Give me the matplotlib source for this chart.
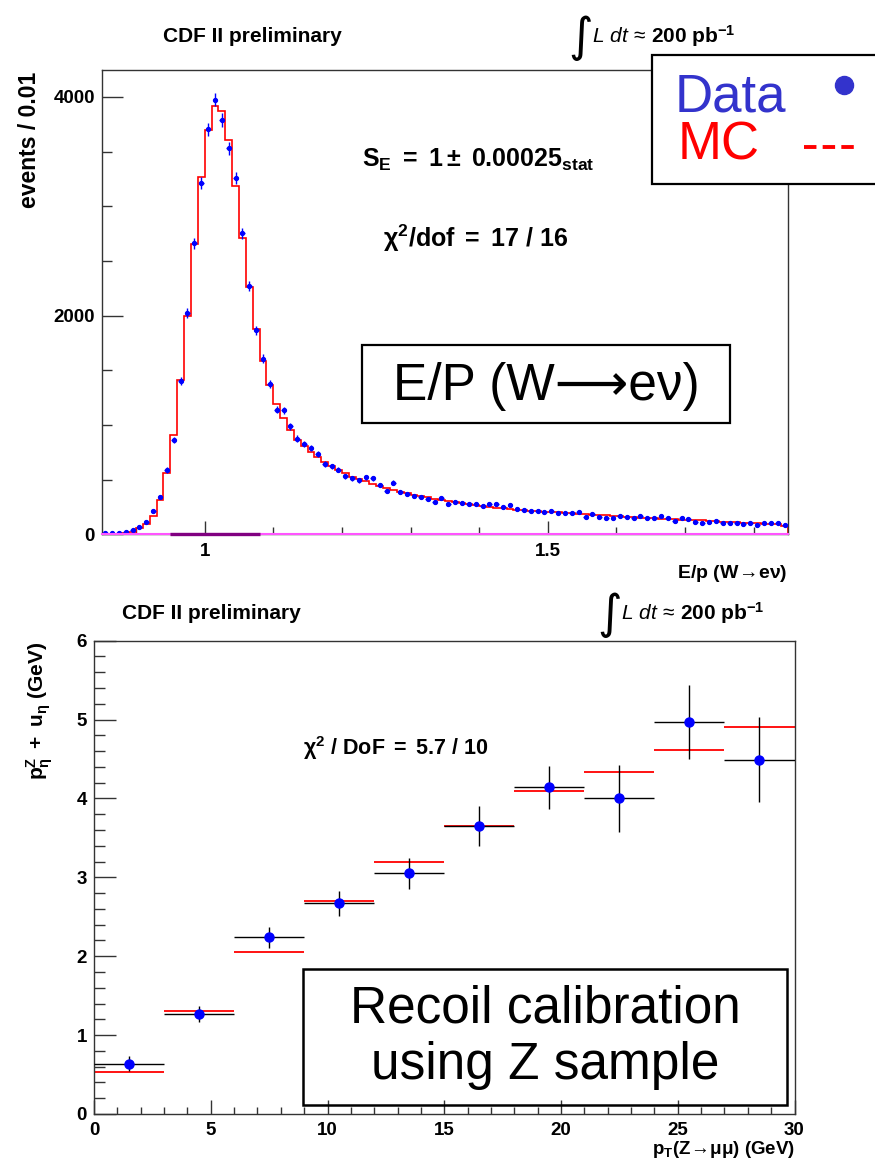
import numpy as np
import matplotlib
matplotlib.use('Agg')
import matplotlib.pyplot as plt
from matplotlib.patches import Rectangle
from matplotlib.lines import Line2D
from matplotlib.ticker import MultipleLocator, StrMethodFormatter

plt.rcParams['font.family'] = ['Liberation Sans', 'DejaVu Sans']
plt.rcParams['mathtext.fontset'] = 'custom'
plt.rcParams['mathtext.rm'] = 'Liberation Sans'
plt.rcParams['mathtext.it'] = 'Liberation Sans:italic'
plt.rcParams['mathtext.bf'] = 'Liberation Sans:bold'

W, H = 875, 1165

# ---- E/p histogram (W -> e nu), 100 bins of 0.01 starting at 0.85 ----
ep_start = 0.85
ep_bin = 0.01
ep_data = [11, 11, 17, 23, 41, 72, 118, 219, 341, 589,
           862, 1400, 2026, 2661, 3215, 3704, 3975, 3786, 3531, 3260,
           2753, 2269, 1865, 1607, 1379, 1142, 1135, 990, 877, 825,
           792, 734, 643, 622, 594, 534, 512, 497, 521, 512,
           451, 400, 473, 391, 369, 354, 339, 324, 299, 330,
           278, 299, 290, 275, 275, 263, 278, 278, 248, 269,
           230, 223, 217, 217, 208, 217, 199, 199, 199, 208,
           162, 187, 162, 148, 148, 169, 162, 148, 169, 148,
           148, 169, 148, 126, 153, 139, 117, 108, 117, 126,
           102, 102, 102, 93, 108, 87, 108, 108, 108, 87]
ep_mc = [3, 4, 6, 10, 26, 55, 94, 170, 313, 565,
         909, 1409, 1993, 2657, 3263, 3698, 3917, 3871, 3604, 3181,
         2710, 2266, 1880, 1585, 1363, 1190, 1069, 959, 862, 807,
         755, 710, 658, 625, 594, 560, 530, 505, 485, 465,
         445, 425, 408, 392, 378, 365, 352, 340, 328, 318,
         308, 298, 290, 282, 274, 262, 254, 246, 238, 232,
         226, 222, 218, 214, 210, 206, 202, 198, 194, 190,
         186, 182, 178, 174, 170, 166, 162, 158, 155, 152,
         149, 146, 143, 140, 137, 134, 131, 128, 124, 121,
         117, 114, 111, 108, 105, 102, 99, 96, 93, 80]
fit_range = [0.95, 1.08]

# ---- recoil calibration with Z -> mu mu ----
pt_lo = [0, 3, 6, 9, 12, 15, 18, 21, 24, 27]
pt_bin = 3
recoil_data = [0.64, 1.27, 2.24, 2.67, 3.05, 3.65, 4.14, 4.00, 4.97, 4.49]
recoil_err = [0.10, 0.10, 0.13, 0.155, 0.20, 0.25, 0.27, 0.42, 0.47, 0.54]
recoil_mc = [0.53, 1.31, 2.06, 2.70, 3.20, 3.65, 4.10, 4.34, 4.62, 4.91]


def fx(x):
    return x / W


def fy(y):
    return 1 - y / H


def style_axes(ax, major_len_y, major_len_x):
    for s in ax.spines.values():
        s.set_color('#333333')
        s.set_linewidth(1.0)
    ax.tick_params(which='both', direction='in', colors='#333333',
                   top=False, right=False, labelsize=13.5, width=1.0)
    ax.tick_params(axis='y', which='major', length=major_len_y, pad=5)
    ax.tick_params(axis='y', which='minor', length=major_len_y / 2)
    ax.tick_params(axis='x', which='major', length=major_len_x, pad=6)
    ax.tick_params(axis='x', which='minor', length=major_len_x / 2)
    for lab in ax.get_xticklabels() + ax.get_yticklabels():
        lab.set_fontweight('bold')
        lab.set_color('black')


fig = plt.figure(figsize=(W / 100, H / 100), dpi=100)

# ================= top panel =================
ax1 = fig.add_axes([fx(101.7), fy(534.5), (788 - 101.7) / W, (534.5 - 70) / H])
edges = ep_start + ep_bin * np.arange(len(ep_data) + 1)
centers = edges[:-1] + ep_bin / 2
ax1.stairs(ep_mc, edges, color='red', lw=1.2, zorder=2)
ax1.errorbar(centers, ep_data, xerr=0.0035, yerr=np.sqrt(ep_data),
             fmt='o', ms=2.8, color='blue', ecolor='blue', elinewidth=1.0,
             capsize=0, zorder=3)
ax1.axhline(0, color='#ff55ff', lw=1.5, zorder=4, clip_on=False)
ax1.plot(fit_range, [0, 0], color='#800080', lw=2.4, zorder=5,
         solid_capstyle='butt', clip_on=False)
ax1.set_xlim(edges[0], edges[-1])
ax1.set_ylim(0, 4245)
ax1.xaxis.set_major_locator(MultipleLocator(0.5))
ax1.xaxis.set_minor_locator(MultipleLocator(0.1))
ax1.xaxis.set_major_formatter(StrMethodFormatter('{x:g}'))
ax1.yaxis.set_major_locator(MultipleLocator(2000))
ax1.yaxis.set_minor_locator(MultipleLocator(500))
style_axes(ax1, 15, 9.5)

# ================= bottom panel =================
ax2 = fig.add_axes([fx(94), fy(1114), (794.5 - 94) / W, (1114 - 640.7) / H])
pt_lo_arr = np.array(pt_lo, dtype=float)
pt_c = pt_lo_arr + pt_bin / 2
ax2.hlines(recoil_mc, pt_lo_arr, pt_lo_arr + pt_bin, color='red', lw=1.3, zorder=2)
ax2.errorbar(pt_c, recoil_data, xerr=pt_bin / 2, yerr=recoil_err, fmt='o',
             ms=6.5, color='blue', ecolor='black', elinewidth=1.0, capsize=0,
             zorder=3)
ax2.set_xlim(0, 30)
ax2.set_ylim(0, 6)
ax2.xaxis.set_major_locator(MultipleLocator(5))
ax2.xaxis.set_minor_locator(MultipleLocator(1))
ax2.yaxis.set_major_locator(MultipleLocator(1))
ax2.yaxis.set_minor_locator(MultipleLocator(0.2))
style_axes(ax2, 15.5, 10)

# ================= texts =================
bold = dict(fontweight='bold', color='black')
fig.text(fx(163), fy(37), 'CDF II preliminary', fontsize=15, va='center', **bold)
fig.text(fx(122), fy(614), 'CDF II preliminary', fontsize=15, va='center', **bold)

for xi, yb in ((568, 43), (597, 620)):
    fig.text(fx(xi), fy(yb + 8), '\u222b', family='DejaVu Sans', fontsize=34,
             va='baseline', ha='left')
    fig.text(fx(xi + 24), fy(yb), r'$\mathit{L\ dt}\,\approx\,\mathbf{200\ pb^{-1}}$',
             fontsize=15, va='baseline', ha='left')

fig.text(fx(30), fy(72), 'events / 0.01', rotation=90, fontsize=16.5,
         ha='center', va='top', **bold)
fig.text(fx(787), fy(573), r'$\mathbf{E/p\ (W\!\rightarrow\! e\nu)}$', fontsize=14,
         ha='right', va='center')
fig.text(fx(40), fy(642), r'$\mathbf{p^{Z}_{\eta}\ +\ u_{\eta}\ (GeV)}$', rotation=90,
         fontsize=15, ha='center', va='top')
fig.text(fx(795), fy(1150), r'$\mathbf{p_{T}(Z\!\rightarrow\!\mu\mu)\ (GeV)}$',
         fontsize=13.5, ha='right', va='center')

fig.text(fx(362), fy(160), r'$\mathbf{S_{E}\ =\ 1\pm\ 0.00025_{stat}}$',
         fontsize=18, ha='left', va='center')
fig.text(fx(383), fy(238), r'$\mathbf{\chi^{2}/dof\ =\ 17\ /\ 16}$',
         fontsize=18, ha='left', va='center')
fig.text(fx(303), fy(748), r'$\mathbf{\chi^{2}\ /\ DoF\ =\ 5.7\ /\ 10}$',
         fontsize=15.5, ha='left', va='center')

# boxed annotations
fig.add_artist(Rectangle((fx(362), fy(423)), (730 - 362) / W, (423 - 345) / H,
                         transform=fig.transFigure, fill=False, ec='black', lw=1.6, zorder=6))
fig.text(fx(546), fy(386), 'E/P (W\u27f6e\u03bd)', fontsize=37, ha='center', va='center')

fig.add_artist(Rectangle((fx(303), fy(1105)), (787 - 303) / W, (1105 - 969) / H,
                         transform=fig.transFigure, fill=False, ec='black', lw=1.8, zorder=6))
fig.text(fx(545), fy(1037), 'Recoil calibration\nusing Z sample', fontsize=37,
         ha='center', va='center', linespacing=1.2)

# legend box
fig.add_artist(Rectangle((fx(652), fy(184)), (885 - 652) / W, (184 - 55) / H,
                         transform=fig.transFigure, fc='white', ec='black', lw=1.6, zorder=6))
fig.text(fx(675), fy(112), 'Data', color='#3333cc', fontsize=38, va='baseline', zorder=7)
fig.text(fx(678), fy(160), 'MC', color='red', fontsize=38, va='baseline', zorder=7)
fig.add_artist(Line2D([fx(844)], [fy(85)], marker='o', ms=13, color='#3333cc',
                      transform=fig.transFigure, zorder=7))
fig.add_artist(Line2D([fx(804), fx(856)], [fy(147), fy(147)], color='red', lw=2.8,
                      dashes=(3.2, 1.6), transform=fig.transFigure, zorder=7))

fig.savefig('out.png', dpi=100)
